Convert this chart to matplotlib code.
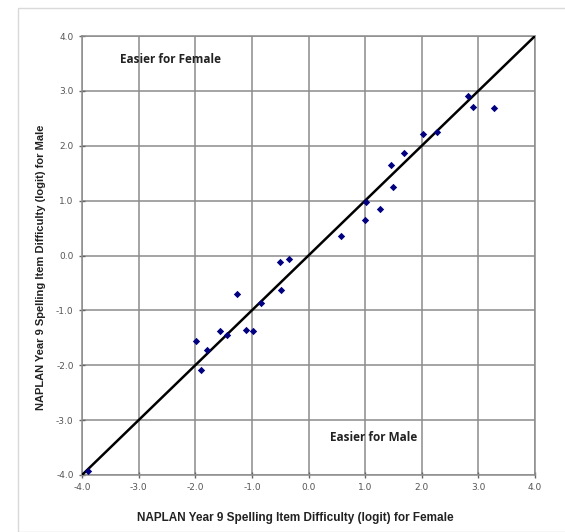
import numpy as np
import matplotlib.pyplot as plt
from matplotlib.patches import Rectangle

# 女生/男生 题目难度 (logit)
female = [-3.90, -1.98, -1.90, -1.79, -1.57, -1.44, -1.26, -1.10, -0.98, -0.84,
          -0.51, -0.35, -0.48, 0.57, 1.00, 1.02, 1.26, 1.50, 1.45, 1.68,
          2.03, 2.27, 2.81, 2.91, 3.27]
male = [-3.92, -1.56, -2.09, -1.73, -1.38, -1.45, -0.71, -1.35, -1.38, -0.87,
        -0.12, -0.07, -0.62, 0.35, 0.64, 0.98, 0.85, 1.24, 1.65, 1.87,
        2.21, 2.25, 2.91, 2.71, 2.69]
ticks = [-4.0, -3.0, -2.0, -1.0, 0.0, 1.0, 2.0, 3.0, 4.0]
tick_labels = ["%.1f" % t for t in ticks]

fig = plt.figure(figsize=(5.65, 5.32), dpi=100)
fig.patches.append(Rectangle((18/565, 0), 1, 1-8/532, transform=fig.transFigure,
                             fill=False, edgecolor="#d9d9d9", lw=1))
ax = fig.add_axes([82/565, 1-475/532, 453/565, 439/532])

ax.set_xlim(-4, 4)
ax.set_ylim(-4, 4)
ax.set_xticks(ticks)
ax.set_yticks(ticks)
ax.set_xticklabels(tick_labels)
ax.set_yticklabels(tick_labels)
ax.grid(True, color="#8c8c8c", lw=1.1)
ax.set_axisbelow(True)
for s in ax.spines.values():
    s.set_color("#8c8c8c")
    s.set_linewidth(1.1)
ax.tick_params(axis="both", direction="inout", length=5, color="#666666",
               labelsize=6.5, labelcolor="#555555", width=1)

# 对角线
ax.plot([-4, 4], [-4, 4], color="black", lw=1.8, zorder=3)
ax.scatter(female, male, marker="D", s=14, color="#000080", zorder=4, lw=0)

ax.text(-2.44, 3.58, "Easier for Female", ha="center", va="center",
        fontsize=8.5, fontweight="bold", family="Open Sans", color="#222222")
ax.text(1.15, -3.31, "Easier for Male", ha="center", va="center",
        fontsize=8.5, fontweight="bold", family="Open Sans", color="#222222")

# 坐标轴标题
ax.text(0.470, -0.098, "NAPLAN Year 9 Spelling Item Difficulty (logit) for Female",
        transform=ax.transAxes, ha="center", va="center",
        fontsize=8.5, fontweight="bold", family="Liberation Sans", color="#222222")
ax.text(-0.0905, 0.474, "NAPLAN Year 9 Spelling Item Difficulty (logit) for Male",
        transform=ax.transAxes, ha="center", va="center", rotation=90,
        fontsize=8, fontweight="bold", family="Liberation Sans", color="#222222")

fig.savefig("out.png", dpi=100)
